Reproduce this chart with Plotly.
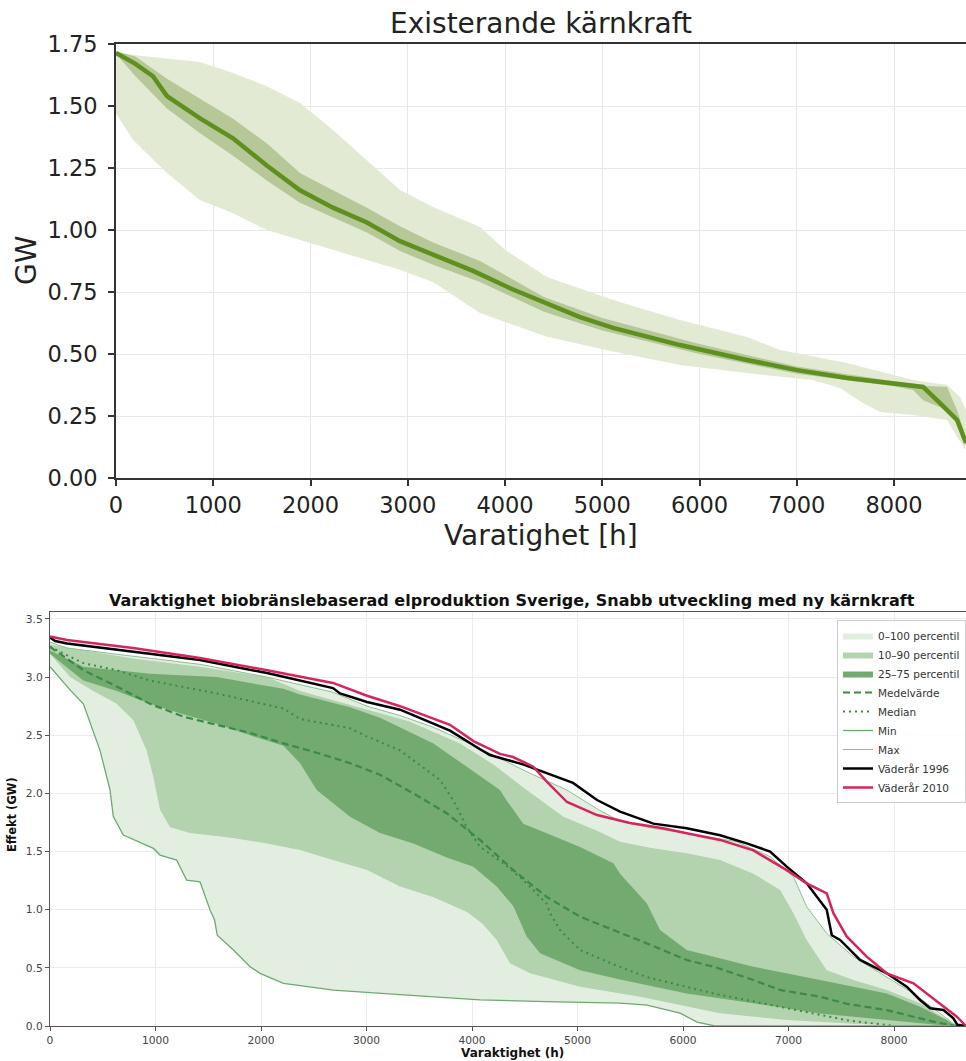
import plotly.graph_objects as go

W, H = 966, 1061

# ---------------- Top chart: Existerande kärnkraft ----------------
top_med_h = [0, 200, 380, 524, 864, 1203, 1550, 1892, 2231, 2580, 2920, 3260, 3671, 4082, 4771, 5111, 5800, 6488, 7003, 7517, 8031, 8298, 8473, 8648, 8740]
top_med_v = [1.714, 1.67, 1.62, 1.54, 1.45, 1.37, 1.26, 1.16, 1.09, 1.03, 0.955, 0.90, 0.835, 0.76, 0.649, 0.605, 0.536, 0.476, 0.435, 0.403, 0.379, 0.367, 0.302, 0.234, 0.141]

top_in_up_h = [0, 200, 524, 864, 1200, 1550, 1892, 2231, 2580, 2920, 3260, 3743, 4400, 5000, 6000, 7000, 8000, 8300, 8545, 8648, 8740]
top_in_up_v = [1.72, 1.70, 1.61, 1.53, 1.45, 1.35, 1.23, 1.16, 1.09, 1.015, 0.95, 0.875, 0.73, 0.645, 0.54, 0.45, 0.39, 0.372, 0.367, 0.274, 0.165]
top_in_lo_h = [0, 200, 524, 864, 1200, 1550, 1892, 2231, 2580, 2920, 3260, 3743, 4400, 5000, 6000, 7000, 8000, 8195, 8300, 8545, 8678, 8740]
top_in_lo_v = [1.71, 1.62, 1.49, 1.39, 1.30, 1.20, 1.11, 1.05, 0.99, 0.915, 0.86, 0.79, 0.67, 0.595, 0.50, 0.42, 0.37, 0.355, 0.314, 0.274, 0.206, 0.13]

top_out_up_h = [0, 175, 864, 1203, 1550, 1892, 2231, 2580, 2920, 3260, 3743, 4000, 4430, 5111, 5800, 6488, 6828, 7517, 8195, 8545, 8678, 8740]
top_out_up_v = [1.72, 1.706, 1.677, 1.633, 1.58, 1.512, 1.403, 1.282, 1.161, 1.093, 1.012, 0.92, 0.81, 0.718, 0.637, 0.569, 0.516, 0.464, 0.395, 0.375, 0.327, 0.274]
top_out_lo_h = [0, 175, 524, 864, 1203, 1550, 1892, 2580, 2920, 3260, 3743, 4430, 5111, 5800, 6488, 7167, 7445, 7681, 7856, 8195, 8545, 8648, 8740]
top_out_lo_v = [1.47, 1.363, 1.23, 1.121, 1.068, 1.0, 0.96, 0.879, 0.84, 0.79, 0.665, 0.57, 0.51, 0.456, 0.423, 0.395, 0.363, 0.302, 0.266, 0.254, 0.234, 0.165, 0.113]

top_xticks = [0, 1000, 2000, 3000, 4000, 5000, 6000, 7000, 8000]
top_yticks = [0.0, 0.25, 0.5, 0.75, 1.0, 1.25, 1.5, 1.75]

# ---------------- Bottom chart: biobränsle ----------------
max_h = [0, 161, 787, 1422, 2057, 2682, 3005, 3318, 3630, 4000, 4265, 4581, 4897, 5200, 5403, 5719, 6035, 6509, 6825, 7046, 7172, 7362, 7615, 7931, 8184, 8437, 8563, 8620]
max_v = [3.30, 3.25, 3.18, 3.11, 3.00, 2.87, 2.75, 2.67, 2.57, 2.42, 2.30, 2.16, 2.03, 1.86, 1.76, 1.70, 1.657, 1.585, 1.456, 1.284, 1.026, 0.796, 0.596, 0.424, 0.28, 0.108, 0.02, 0.0]

min_h = [0, 190, 316, 474, 569, 600, 695, 980, 1043, 1200, 1295, 1422, 1517, 1560, 1585, 1738, 1896, 1991, 2212, 2686, 3318, 4076, 4700, 5403, 5659, 5972, 6133, 6300, 8682]
min_v = [3.09, 2.89, 2.77, 2.37, 2.03, 1.80, 1.642, 1.527, 1.47, 1.427, 1.255, 1.24, 0.997, 0.911, 0.78, 0.653, 0.51, 0.453, 0.367, 0.309, 0.27, 0.224, 0.21, 0.197, 0.18, 0.11, 0.034, 0.0, 0.0]

p90_h = [0, 787, 1422, 2057, 2370, 3002, 3400, 3886, 4200, 4518, 4866, 5185, 5403, 5700, 6035, 6351, 6667, 6920, 7046, 7172, 7362, 7615, 7931, 8247, 8500, 8600]
p90_v = [3.28, 3.16, 3.09, 3.00, 2.88, 2.72, 2.62, 2.43, 2.25, 2.03, 1.80, 1.68, 1.585, 1.53, 1.485, 1.427, 1.31, 1.17, 0.97, 0.739, 0.48, 0.395, 0.309, 0.195, 0.052, 0.0]

p10_h = [0, 190, 411, 632, 790, 916, 980, 1043, 1138, 1327, 1735, 2057, 2370, 2682, 3005, 3318, 3630, 3953, 4100, 4234, 4360, 4550, 5024, 5592, 6350, 6982, 7614, 8200]
p10_v = [3.20, 3.0, 2.88, 2.77, 2.63, 2.37, 2.14, 1.86, 1.71, 1.66, 1.616, 1.57, 1.513, 1.427, 1.341, 1.20, 1.109, 0.98, 0.88, 0.739, 0.54, 0.453, 0.338, 0.252, 0.11, 0.052, 0.02, 0.0]

p75_h = [0, 316, 948, 1580, 2212, 2370, 2844, 3128, 3634, 4000, 4265, 4328, 4486, 4708, 5024, 5340, 5403, 5656, 5782, 6035, 6667, 7299, 7931, 8247, 8500, 8580]
p75_v = [3.23, 3.09, 3.03, 3.0, 2.90, 2.85, 2.74, 2.65, 2.43, 2.2, 2.03, 1.94, 1.74, 1.657, 1.54, 1.40, 1.31, 1.055, 0.825, 0.653, 0.51, 0.395, 0.28, 0.166, 0.052, 0.0]

p25_h = [0, 316, 632, 948, 1264, 1580, 1896, 2212, 2370, 2528, 2844, 3128, 3444, 3760, 4013, 4234, 4392, 4518, 4645, 5024, 5403, 6035, 6667, 7299, 7931, 8400, 8600]
p25_v = [3.20, 2.97, 2.88, 2.77, 2.68, 2.60, 2.50, 2.41, 2.26, 2.03, 1.80, 1.66, 1.57, 1.45, 1.37, 1.20, 1.03, 0.77, 0.625, 0.48, 0.40, 0.28, 0.195, 0.108, 0.05, 0.01, 0.0]

mean_h = [0, 316, 632, 948, 1264, 1580, 1896, 2212, 2528, 2844, 3128, 3444, 3760, 4076, 4392, 4708, 5024, 5340, 5659, 6035, 6288, 6667, 6919, 7299, 7554, 7931, 8180, 8405, 8600]
mean_v = [3.26, 3.06, 2.92, 2.77, 2.66, 2.59, 2.52, 2.43, 2.35, 2.26, 2.16, 2.0, 1.83, 1.60, 1.34, 1.11, 0.94, 0.825, 0.71, 0.567, 0.51, 0.395, 0.31, 0.252, 0.19, 0.137, 0.08, 0.03, 0.0]

median_h = [0, 316, 632, 948, 1580, 2212, 2370, 2844, 3002, 3318, 3697, 3823, 3950, 4076, 4297, 4486, 4708, 4740, 4834, 5024, 5340, 5659, 6288, 6919, 7554, 8000]
median_v = [3.26, 3.12, 3.06, 2.97, 2.86, 2.73, 2.64, 2.56, 2.49, 2.37, 2.115, 1.94, 1.71, 1.54, 1.40, 1.255, 1.05, 0.97, 0.825, 0.653, 0.53, 0.42, 0.28, 0.166, 0.05, 0.0]

y1996_h = [0, 50, 161, 787, 1422, 2057, 2682, 2749, 3005, 3318, 3630, 3791, 4076, 4170, 4483, 4711, 4957, 5185, 5403, 5719, 6035, 6351, 6604, 6825, 6983, 7172, 7362, 7410, 7489, 7678, 7931, 8120, 8247, 8342, 8468, 8563, 8600, 8682]
y1996_v = [3.34, 3.31, 3.29, 3.216, 3.147, 3.035, 2.906, 2.86, 2.786, 2.72, 2.605, 2.54, 2.38, 2.33, 2.25, 2.175, 2.09, 1.943, 1.843, 1.74, 1.70, 1.64, 1.57, 1.50, 1.37, 1.227, 1.0, 0.78, 0.74, 0.568, 0.453, 0.338, 0.224, 0.152, 0.138, 0.066, 0.01, 0.0]

y2010_h = [0, 161, 787, 1422, 2057, 2682, 3005, 3318, 3791, 4013, 4265, 4389, 4581, 4711, 4900, 5185, 5498, 5810, 6035, 6351, 6667, 6983, 7172, 7362, 7425, 7551, 7741, 7931, 8184, 8310, 8500, 8595, 8682]
y2010_v = [3.35, 3.32, 3.25, 3.164, 3.06, 2.95, 2.84, 2.75, 2.59, 2.45, 2.34, 2.313, 2.23, 2.10, 1.926, 1.814, 1.745, 1.70, 1.657, 1.60, 1.51, 1.34, 1.227, 1.14, 0.97, 0.77, 0.596, 0.453, 0.367, 0.28, 0.152, 0.08, 0.0]

bot_xticks = [0, 1000, 2000, 3000, 4000, 5000, 6000, 7000, 8000]
bot_yticks = [0.0, 0.5, 1.0, 1.5, 2.0, 2.5, 3.0, 3.5]

FONT = "DejaVu Sans"

fig = go.Figure()


def band(xu, yu, xl, yl, color, name, xa, ya, show):
    fig.add_trace(go.Scatter(
        x=list(xu) + list(xl)[::-1], y=list(yu) + list(yl)[::-1],
        fill="toself", fillcolor=color, mode="lines",
        line=dict(width=0, color=color), name=name, showlegend=show,
        xaxis=xa, yaxis=ya, hoverinfo="skip"))


def line(xs, ys, color, width, name, xa, ya, show, dash="solid"):
    fig.add_trace(go.Scatter(
        x=xs, y=ys, mode="lines", line=dict(color=color, width=width, dash=dash),
        name=name, showlegend=show, xaxis=xa, yaxis=ya, hoverinfo="skip"))


# top chart
band(top_out_up_h, top_out_up_v, top_out_lo_h, top_out_lo_v, "#e2ead4", "0-100", "x", "y", False)
band(top_in_up_h, top_in_up_v, top_in_lo_h, top_in_lo_v, "#b6c897", "25-75", "x", "y", False)
line(top_med_h, top_med_v, "#5f8f1f", 4.5, "Median", "x", "y", False)

# bottom chart
band(max_h, max_v, min_h, min_v, "#e2eee0", "0–100 percentil", "x2", "y2", True)
band(p90_h, p90_v, p10_h, p10_v, "#b2d3ae", "10–90 percentil", "x2", "y2", True)
band(p75_h, p75_v, p25_h, p25_v, "#73aa70", "25–75 percentil", "x2", "y2", True)
line(mean_h, mean_v, "#3b8a45", 2.2, "Medelvärde", "x2", "y2", True, dash="7px,4px")
line(median_h, median_v, "#3b8a45", 2.0, "Median", "x2", "y2", True, dash="2px,4px")
line(min_h, min_v, "#6ea872", 1.3, "Min", "x2", "y2", True)
line(max_h, max_v, "#8cc090", 1.0, "Max", "x2", "y2", True)
line(y1996_h, y1996_v, "#000000", 2.5, "Väderår 1996", "x2", "y2", True)
line(y2010_h, y2010_v, "#d6245e", 2.5, "Väderår 2010", "x2", "y2", True)

top_dom_y = [1 - 478 / H, 1 - 44 / H]
bot_dom_y = [1 - 1026 / H, 1 - 612 / H]

fig.update_layout(
    template="none",
    width=W, height=H, autosize=False,
    margin=dict(l=0, r=0, t=0, b=0, pad=0),
    paper_bgcolor="white", plot_bgcolor="white",
    font=dict(family=FONT, color="#222"),
    xaxis=dict(domain=[116 / W, 1], anchor="y", range=[0, 8740], tickvals=top_xticks,
               automargin=False,
               showline=True, linecolor="#333", linewidth=1.6, mirror=True,
               ticks="outside", ticklen=6, tickwidth=1.5, tickcolor="#333",
               showgrid=True, gridcolor="#e8e8e8", gridwidth=1, zeroline=False,
               tickfont=dict(size=22.5, family=FONT, color="#222")),
    yaxis=dict(domain=top_dom_y, anchor="x", range=[0, 1.75], tickvals=top_yticks,
               automargin=False, ticklabelstandoff=6,
               tickformat=".2f", showline=True, linecolor="#333", linewidth=1.6,
               ticks="outside", ticklen=6, tickwidth=1.5, tickcolor="#333",
               showgrid=True, gridcolor="#e8e8e8", gridwidth=1, zeroline=False,
               tickfont=dict(size=22.5, family=FONT, color="#222")),
    xaxis2=dict(domain=[50 / W, 1], anchor="y2", range=[0, 8682], tickvals=bot_xticks,
                automargin=False,
                showline=True, linecolor="#555", linewidth=1.3, mirror=True,
                ticks="outside", ticklen=4, tickwidth=1, tickcolor="#555",
                showgrid=True, gridcolor="#ebebeb", gridwidth=1, zeroline=False,
                tickfont=dict(size=10.7, family=FONT, color="#444")),
    yaxis2=dict(domain=bot_dom_y, anchor="x2", range=[0, 3.56], tickvals=bot_yticks,
                automargin=False,
                tickformat=".1f", showline=True, linecolor="#555", linewidth=1.3,
                ticks="outside", ticklen=4, tickwidth=1, tickcolor="#555",
                showgrid=True, gridcolor="#ebebeb", gridwidth=1, zeroline=False,
                tickfont=dict(size=10.7, family=FONT, color="#444")),
    legend=dict(x=1, xanchor="right", y=1 - 620 / H, yanchor="top",
                font=dict(size=10.5, family=FONT, color="#333"),
                bgcolor="rgba(255,255,255,0.85)", bordercolor="#cccccc", borderwidth=1,
                itemwidth=30, tracegroupgap=0),
    showlegend=True,
)

ann = [
    dict(text="Existerande kärnkraft", x=541 / W, y=1 - 24 / H, font=dict(size=28, family=FONT, color="#222")),
    dict(text="Varatighet [h]", x=541 / W, y=1 - 535 / H, font=dict(size=28, family=FONT, color="#222")),
    dict(text="GW", x=26 / W, y=1 - 261 / H, textangle=-90, font=dict(size=28, family=FONT, color="#222")),
    dict(text="<b>Varaktighet biobränslebaserad elproduktion Sverige, Snabb utveckling med ny kärnkraft</b>",
         x=512 / W, y=1 - 600 / H, font=dict(size=16, family=FONT, color="#111")),
    dict(text="<b>Varaktighet (h)</b>", x=512 / W, y=1 - 1053 / H, font=dict(size=12, family=FONT, color="#111")),
    dict(text="<b>Effekt (GW)</b>", x=12 / W, y=1 - 815 / H, textangle=-90, font=dict(size=11.5, family=FONT, color="#111")),
]
for a in ann:
    a.update(xref="paper", yref="paper", showarrow=False, xanchor="center", yanchor="middle")
fig.update_layout(annotations=ann)

fig.write_html("out.html")
